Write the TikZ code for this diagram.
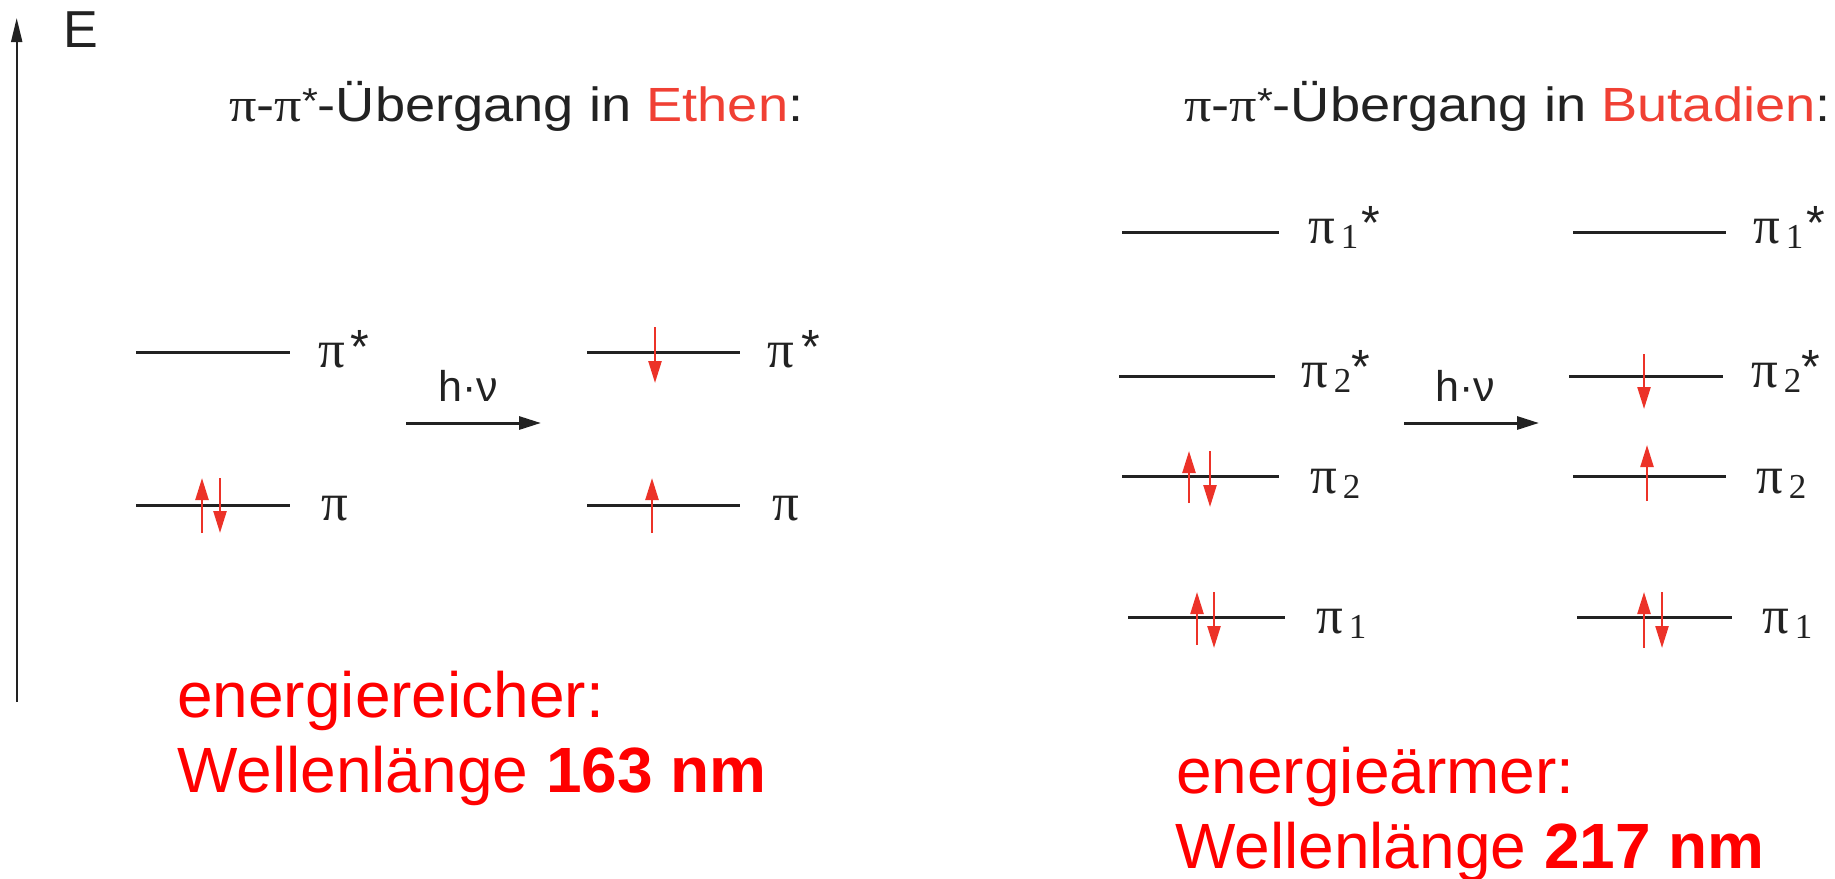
\documentclass[tikz,border=0pt]{standalone}
\usepackage{fontspec}
\setmainfont{Liberation Sans}
\newfontfamily\pifont{Liberation Serif}
\usetikzlibrary{arrows.meta}
\definecolor{ink}{RGB}{34,34,34}
\definecolor{ered}{RGB}{236,50,40}
\definecolor{tred}{RGB}{240,64,52}
\definecolor{bred}{RGB}{255,0,0}
\newcommand\orbsub[1]{\kern6pt\raisebox{-5pt}{\fontsize{35}{35}\selectfont #1}}
\newcommand\orbstar{\raisebox{4pt}{\normalfont\fontsize{48}{52}\selectfont *}}
\newcommand\tpi{{\pifont π}}
\begin{document}
\begin{tikzpicture}[x=1pt,y=-1pt,
  level/.style={draw=ink,line width=3pt},
  spin/.style={draw=ered,line width=2.4pt,-{Triangle[length=22pt,width=13pt]}},
  trans/.style={draw=ink,line width=3pt,-{Triangle[length=22pt,width=13pt]}},
  axis/.style={draw=ink,line width=2pt,-{Triangle[length=24pt,width=11pt]}},
  orb/.style={anchor=base west,inner sep=0pt,text=ink,font=\pifont\fontsize{53}{60}\selectfont},
  title/.style={anchor=base west,inner sep=0pt,text=ink,font=\fontsize{48}{56}\selectfont},
  hnu/.style={anchor=base west,inner sep=0pt,text=ink,font=\fontsize{43}{50}\selectfont},
  result/.style={anchor=base west,inner sep=0pt,text=bred,font=\fontsize{64}{75}\selectfont}]
\useasboundingbox (0,0) rectangle (1835,878);
% energy axis
\coordinate (axb) at (16.7,702);
\coordinate (axt) at (16.7,18);
\draw[axis] (axb) -- (axt);
\node[anchor=base west,inner sep=0pt,text=ink,font=\fontsize{52}{60}\selectfont] (E) at (63,47) {E};
% titles
\node[title] (t1) at (229,121) {\scalebox{1.13}[1]{\tpi-\tpi\raisebox{8pt}{\fontsize{36}{40}\selectfont *}-Übergang in \textcolor{tred}{Ethen}:}};
\node[title] (t2) at (1184,121) {\scalebox{1.13}[1]{\tpi-\tpi\raisebox{8pt}{\fontsize{36}{40}\selectfont *}-Übergang in \textcolor{tred}{Butadien}:}};
% ---------- Ethen ----------
\coordinate (e1a) at (136,352); \coordinate (e1b) at (290,352);
\coordinate (e2a) at (136,505); \coordinate (e2b) at (290,505);
\coordinate (e3a) at (587,352); \coordinate (e3b) at (740,352);
\coordinate (e4a) at (587,505); \coordinate (e4b) at (740,505);
\draw[level] (e1a) -- (e1b);
\draw[level] (e2a) -- (e2b);
\draw[level] (e3a) -- (e3b);
\draw[level] (e4a) -- (e4b);
\node[orb] (le1) at (318,367) {π\kern6pt\orbstar};
\node[orb] (le2) at (321,520) {π};
\node[orb] (le3) at (767,367) {π\kern8pt\orbstar};
\node[orb] (le4) at (772,520) {π};
% spins
\coordinate (s1a) at (202,533); \coordinate (s1b) at (202,478);
\coordinate (s2a) at (220,478); \coordinate (s2b) at (220,533);
\coordinate (s3a) at (655,327); \coordinate (s3b) at (655,383);
\coordinate (s4a) at (652,533); \coordinate (s4b) at (652,478);
\draw[spin] (s1a) -- (s1b);
\draw[spin] (s2a) -- (s2b);
\draw[spin] (s3a) -- (s3b);
\draw[spin] (s4a) -- (s4b);
% transition
\coordinate (ta) at (406,423); \coordinate (tb) at (541,423);
\draw[trans] (ta) -- (tb);
\node[hnu] (hn1) at (438,401) {h·ν};
% ---------- Butadien ----------
\coordinate (b1a) at (1122,232); \coordinate (b1b) at (1279,232);
\coordinate (b2a) at (1119,376); \coordinate (b2b) at (1275,376);
\coordinate (b3a) at (1122,476); \coordinate (b3b) at (1279,476);
\coordinate (b4a) at (1128,617); \coordinate (b4b) at (1285,617);
\coordinate (c1a) at (1573,232); \coordinate (c1b) at (1726,232);
\coordinate (c2a) at (1569,376); \coordinate (c2b) at (1723,376);
\coordinate (c3a) at (1573,476); \coordinate (c3b) at (1726,476);
\coordinate (c4a) at (1577,617); \coordinate (c4b) at (1732,617);
\foreach \n in {b1,b2,b3,b4,c1,c2,c3,c4} {\draw[level] (\n a) -- (\n b);}
\node[orb] (lb1) at (1308,243) {π\orbsub{1}\kern3pt\orbstar};
\node[orb] (lb2) at (1301,387) {π\orbsub{2}\orbstar};
\node[orb] (lb3) at (1310,493) {π\orbsub{2}};
\node[orb] (lb4) at (1316,633) {π\orbsub{1}};
\node[orb] (lc1) at (1753,243) {π\orbsub{1}\kern3pt\orbstar};
\node[orb] (lc2) at (1751,387) {π\orbsub{2}\orbstar};
\node[orb] (lc3) at (1756,493) {π\orbsub{2}};
\node[orb] (lc4) at (1762,633) {π\orbsub{1}};
% spins
\coordinate (u1a) at (1189,503); \coordinate (u1b) at (1189,451);
\coordinate (u2a) at (1210,451); \coordinate (u2b) at (1210,507);
\coordinate (u3a) at (1197,645); \coordinate (u3b) at (1197,592);
\coordinate (u4a) at (1214,592); \coordinate (u4b) at (1214,648);
\coordinate (v1a) at (1644,354); \coordinate (v1b) at (1644,409);
\coordinate (v2a) at (1647,501); \coordinate (v2b) at (1647,445);
\coordinate (v3a) at (1644,648); \coordinate (v3b) at (1644,592);
\coordinate (v4a) at (1662,592); \coordinate (v4b) at (1662,648);
\foreach \n in {u1,u2,u3,u4,v1,v2,v3,v4} {\draw[spin] (\n a) -- (\n b);}
% transition
\coordinate (tc) at (1404,423); \coordinate (td) at (1539,423);
\draw[trans] (tc) -- (td);
\node[hnu] (hn2) at (1435,401) {h·ν};
% ---------- results ----------
\node[result] (r1) at (177,717) {energiereicher:};
\node[result] (r2) at (177,792) {Wellenlänge \textbf{163 nm}};
\node[result] (r3) at (1176,793) {energieärmer:};
\node[result] (r4) at (1175,868) {Wellenlänge \textbf{217 nm}};
\end{tikzpicture}
\end{document}
